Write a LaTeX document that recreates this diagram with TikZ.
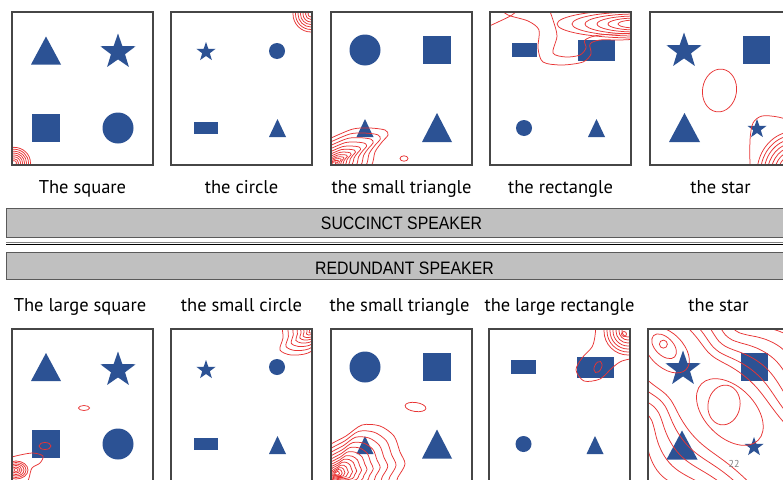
\documentclass[tikz,border=0pt]{standalone}
\usepackage{fontspec}
\setmainfont{PT Sans}
\newfontfamily\bannerfont[FakeStretch=0.88]{Liberation Sans}
\definecolor{shapeblue}{RGB}{44,82,148}
\definecolor{contred}{RGB}{232,52,52}
\definecolor{bannergray}{RGB}{192,192,192}
\definecolor{bannerline}{RGB}{90,90,90}
\definecolor{boxline}{RGB}{70,70,70}
\newcommand\shTri[4]{\fill[shapeblue] ({#1-#3/2},{#2+#4/2}) -- ({#1+#3/2},{#2+#4/2}) -- (#1,{#2-#4/2}) -- cycle;}
\newcommand\shRect[4]{\fill[shapeblue] ({#1-#3/2},{#2-#4/2}) rectangle ({#1+#3/2},{#2+#4/2});}
\newcommand\shCirc[3]{\fill[shapeblue] (#1,#2) circle (#3pt);}
\newcommand\shStar[3]{\fill[shapeblue] (#1,#2) +(-90:#3) -- +(-54:{0.4*#3}) -- +(-18:#3) -- +(18:{0.4*#3}) -- +(54:#3) -- +(90:{0.4*#3}) -- +(126:#3) -- +(162:{0.4*#3}) -- +(198:#3) -- +(234:{0.4*#3}) -- cycle;}
\newcommand\panelbox[2]{\draw[panelframe] (#1,#2) rectangle ++(141,153);}
\newcommand\panelclip[2]{\clip (#1,#2) rectangle ++(141,153);}
\tikzset{
  dens/.style={draw=contred, line width=0.75pt},
  panelframe/.style={draw=boxline, line width=1.1pt},
  lbl/.style={font=\fontsize{18.5}{20}\selectfont, anchor=base, inner sep=0pt},
  bannertxt/.style={font=\bannerfont\fontsize{18}{20}\selectfont, inner sep=0pt},
  bannerbox/.style={fill=bannergray, draw=bannerline, line width=0.9pt}
}
\begin{document}
\begin{tikzpicture}[x=1pt,y=-1pt]
\useasboundingbox (0,0) rectangle (783,479);
\clip (0,0) rectangle (783,479);
\fill[white] (0,0) rectangle (783,479);

% ================= TOP ROW =================
% --- P1
\begin{scope}[shift={(12,12)}]
  \shTri{34}{38.5}{30}{28} \shStar{106}{40}{18.5} \shRect{34}{116}{28}{28} \shCirc{106}{116}{15.5}
\end{scope}
\begin{scope}
  \panelclip{12}{12}
  \foreach \r in {2.5,4.5,6.5,8.5,10.5,12.5,14.5,16.5}
    \draw[dens] (14,163) ellipse ({\r pt} and {0.95*\r pt});
\end{scope}
\panelbox{12}{12}

% --- P2
\begin{scope}[shift={(171,12)}]
  \shStar{35}{40}{10} \shCirc{106}{39}{8} \shRect{35}{116}{24}{12} \shTri{106.5}{116}{17}{18}
\end{scope}
\begin{scope}
  \panelclip{171}{12}
  \foreach \r in {3,5.5,8,10.5,13,15.5,18}
    \draw[dens] (311,14) ellipse ({\r pt} and {\r pt});
\end{scope}
\panelbox{171}{12}

% --- P3
\begin{scope}[shift={(331,12)}]
  \shCirc{34}{38}{15.5} \shRect{106}{38}{28}{28} \shTri{34}{116}{17}{18} \shTri{106}{115.5}{30}{29}
\end{scope}
\begin{scope}
  \panelclip{331}{12}
  \foreach \s in {1,0.86,0.73,0.61,0.5,0.41,0.33,0.26,0.2,0.15,0.1,0.06}
    \draw[dens, shift={(333,164)}, scale=\s] plot[smooth cycle] coordinates
      {(-15,-20) (-2,-26) (20,-35) (37,-36) (52,-34) (55,-29) (49,-22) (42,-12) (38,2) (20,14) (-10,10)};
  \draw[dens] (404,158.5) ellipse (4pt and 2.7pt);
\end{scope}
\panelbox{331}{12}

% --- P4
\begin{scope}[shift={(490,12)}]
  \shRect{34.5}{38}{25}{14} \shRect{106.5}{38.5}{37}{21} \shCirc{34}{116}{8} \shTri{106.5}{116}{17}{18}
\end{scope}
\begin{scope}
  \panelclip{490}{12}
  \foreach \a/\b in {18/4,28/6,39/8,51/10,64/12,79/14}
    \draw[dens] (636,24) ellipse ({\a pt} and {\b pt});
  \draw[dens] plot[smooth] coordinates {(496,6) (508,15) (528,21) (539,30) (538,48) (543,62) (562,65) (583,62) (591,54) (590,44) (600,40) (620,40) (640,39)};
  \draw[dens] plot[smooth] coordinates {(548,6) (553,20) (557,36) (553,53) (566,57) (580,55) (586,48) (585,40) (600,35) (640,33)};
  \draw[dens] plot[smooth] coordinates {(485,28) (498,22) (512,15) (522,6)};
\end{scope}
\panelbox{490}{12}

% --- P5
\begin{scope}[shift={(650,12)}]
  \shStar{34}{39}{18.5} \shRect{106.5}{38}{27}{28} \shTri{34.5}{115.5}{31}{29} \shStar{107}{117}{10}
\end{scope}
\begin{scope}
  \panelclip{650}{12}
  \draw[dens, rotate around={-8:(719.5,90.5)}] (719.5,90.5) ellipse (17pt and 21.5pt);
  \foreach \r in {10,13.5,17,20.5,24,27.5,31,34.5,38}
    \draw[dens] (795,173) ellipse ({\r pt} and {1.1*\r pt});
  \draw[dens] plot[smooth] coordinates {(750,170) (750,140) (753,123) (762,116) (778,117) (795,122)};
\end{scope}
\panelbox{650}{12}

% top labels
\node[lbl] (t1) at (82.5,193) {The square};
\node[lbl] (t2) at (241.5,193) {the circle};
\node[lbl] (t3) at (401.5,193) {the small triangle};
\node[lbl] (t4) at (560.5,193) {the rectangle};
\node[lbl] (t5) at (720.5,193) {the star};

% ================= BANNERS =================
\draw[bannerbox] (6,208) rectangle (800,237);
\node[bannertxt] (succ) at (401.5,223.5) {SUCCINCT SPEAKER};
\draw[draw=gray, line width=0.6pt] (6,242.3) -- (800,242.3);
\draw[draw=black, line width=1.4pt] (6,244.6) -- (800,244.6);
\draw[bannerbox] (6,252) rectangle (800,279);
\node[bannertxt] (redu) at (404.5,268) {REDUNDANT SPEAKER};

% bottom labels
\node[lbl] (b1) at (80,311) {The large square};
\node[lbl] (b2) at (241.5,311) {the small circle};
\node[lbl] (b3) at (399.5,311) {the small triangle};
\node[lbl] (b4) at (559.5,311) {the large rectangle};
\node[lbl] (b5) at (718.5,311) {the star};

% ================= BOTTOM ROW =================
% --- B1
\begin{scope}[shift={(12,329)}]
  \shTri{34}{38}{30}{28} \shStar{106}{41}{18.5} \shRect{34}{114.5}{28}{28} \shCirc{106}{115}{15.5}
\end{scope}
\begin{scope}
  \panelclip{12}{329}
  \draw[dens] (84,408) ellipse (5.5pt and 2.5pt);
  \draw[dens] (45,446) ellipse (6pt and 3.5pt);
  \foreach \r in {2,4,6,8,10,12}
    \draw[dens] (16,470) ellipse ({\r pt} and {0.75*\r pt});
  \draw[dens] plot[smooth] coordinates {(8,458) (20,455) (33,453) (43,456) (40,463) (32,468) (29,478) (25,490)};
\end{scope}
\panelbox{12}{329}

% --- B2
\begin{scope}[shift={(171,329)}]
  \shStar{35}{41}{10} \shCirc{106}{38}{8} \shRect{35}{115}{24}{12} \shTri{106.5}{116}{17}{18}
\end{scope}
\begin{scope}
  \panelclip{171}{329}
  \foreach \s in {1,0.82,0.66,0.52,0.4,0.3,0.2,0.12}
    \draw[dens, shift={(313,330)}, scale=\s] plot[smooth cycle] coordinates
      {(-28,-10) (-30,8) (-33,20) (-22,25) (-5,23) (8,12) (8,-10)};
\end{scope}
\panelbox{171}{329}

% --- B3
\begin{scope}[shift={(331,329)}]
  \shCirc{34}{38}{15.5} \shRect{106}{38}{28}{28} \shTri{34}{116}{17}{18} \shTri{106}{115}{30}{29}
\end{scope}
\begin{scope}
  \panelclip{331}{329}
  \foreach \s in {1,0.87,0.75,0.64,0.54,0.45,0.37,0.3,0.24,0.18,0.13,0.09,0.05}
    \draw[dens, shift={(336,474)}, scale=\s] plot[smooth cycle] coordinates
      {(-20,-20) (-5,-30) (10,-38) (26,-49) (44,-48) (58,-38) (64,-22) (69,-10) (62,3) (55,15) (20,20) (-20,10)};
  \draw[dens, rotate around={-8:(415.5,407)}] (415.5,407) ellipse (10.5pt and 4.5pt);
\end{scope}
\panelbox{331}{329}

% --- B4
\begin{scope}[shift={(489,329)}]
  \shRect{34.5}{38}{25}{14} \shRect{106}{38}{37}{21} \shCirc{34.5}{115}{8} \shTri{106}{116}{17}{18}
\end{scope}
\begin{scope}
  \panelclip{489}{329}
  \draw[dens] (624,334) circle (2.5pt);
  \foreach \r in {6,9,12,15,18,21,24}
    \draw[dens] (628,331) ellipse ({\r pt} and {\r pt});
  \draw[dens] plot[smooth] coordinates {(596,322) (595,336) (592,347) (582,358) (576,370) (584,381) (600,379) (612,368) (622,361) (640,357)};
  \draw[dens, rotate around={-25:(598,367)}] (598,367) ellipse (3.5pt and 6pt);
\end{scope}
\panelbox{489}{329}

% --- B5
\begin{scope}[shift={(648,329)}]
  \shStar{35}{40}{18.5} \shRect{106}{38}{27}{28} \shTri{34}{116}{31}{29} \shStar{106}{118}{10}
\end{scope}
\begin{scope}
  \panelclip{648}{329}
  \draw[dens, rotate around={-10:(724,405)}] (724,405) ellipse (16pt and 20pt);
  \begin{scope}[shift={(715,400)}, rotate=-45]
    \draw[dens] (-76,-3) circle (4pt);
    \draw[dens] (-74,-2) ellipse (15pt and 9pt);
    \draw[dens] (-70,-1) ellipse (28pt and 17pt);
    \draw[dens] (19,-2) ellipse (40pt and 25pt);
    \foreach \d in {34,43,53,64,76,89,103} {
      \draw[dens] plot[smooth, domain=-150:160, samples=40]
        (\x, {\d*(1+0.2*exp(-1*((\x-15)/35)*((\x-15)/35)) - 0.12*exp(-1*((\x+35)/18)*((\x+35)/18)))});
    }
    \foreach \d in {32,40,49,59,70,82,95} {
      \draw[dens] plot[smooth, domain=-150:160, samples=40]
        (\x, {-\d*(1+0.2*exp(-1*((\x-15)/35)*((\x-15)/35)) - 0.12*exp(-1*((\x+35)/18)*((\x+35)/18)))});
    }
  \end{scope}
\end{scope}
\panelbox{648}{329}
\node[text=gray, font=\fontsize{10}{10}\selectfont, inner sep=0pt] (pnum) at (734,464) {22};
\end{tikzpicture}
\end{document}
